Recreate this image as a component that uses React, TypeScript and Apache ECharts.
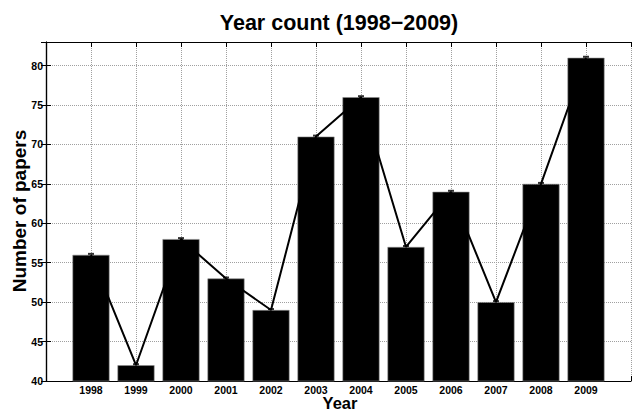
import React, { useEffect, useRef } from "react";
import * as echarts from "echarts";

const years = ["1998", "1999", "2000", "2001", "2002", "2003", "2004", "2005", "2006", "2007", "2008", "2009"];
const counts = [56, 42, 58, 53, 49, 71, 76, 57, 64, 50, 65, 81];
const yTicks = [40, 45, 50, 55, 60, 65, 70, 75, 80];

const FONT = "'Liberation Sans', Arial, Helvetica, sans-serif";

export default function App() {
  const ref = useRef<HTMLDivElement>(null);
  useEffect(() => {
    document.body.style.margin = "0";
    if (!ref.current) return;
    const chart = echarts.init(ref.current, null, { renderer: "svg" });
    const pts = counts.map((v, i) => [i + 1, v]);
    const tickLine = { show: true, inside: true, length: 5, lineStyle: { color: "#000", width: 1 } };
    const textStyle = (text: string, size: number) => ({
      text,
      fontSize: size,
      fontWeight: "bold",
      fontFamily: FONT,
      fill: "#000",
      align: "center",
      verticalAlign: "middle",
    });
    chart.setOption({
      animation: false,
      backgroundColor: "#fff",
      graphic: [
        { type: "text", x: 339, y: 23, style: textStyle("Year count (1998\u22122009)", 21.5) },
        { type: "text", x: 340, y: 402.5, style: textStyle("Year", 16.5) },
        { type: "text", x: 19, y: 211, rotation: Math.PI / 2, style: textStyle("Number of papers", 19) },
      ],
      grid: { left: 46, right: 1, top: 42, bottom: 29, containLabel: false, outerBoundsMode: "none" },
      xAxis: [
        {
          type: "value",
          min: 0,
          max: 13,
          interval: 1,
          position: "bottom",
          axisLine: { show: true, lineStyle: { color: "#000", width: 1.2 } },
          axisTick: tickLine,
          axisLabel: {
            show: true,
            margin: 3,
            fontSize: 10.5,
            fontWeight: "bold",
            fontFamily: FONT,
            color: "#000",
            formatter: (v: number) => (v >= 1 && v <= years.length ? years[v - 1] : ""),
          },
          splitLine: { show: true, lineStyle: { color: "#a0a0a0", type: "dotted", width: 1 } },
        },
        {
          type: "value",
          min: 0,
          max: 13,
          interval: 1,
          position: "top",
          axisLine: { show: true, lineStyle: { color: "#000", width: 1.2 } },
          axisTick: tickLine,
          axisLabel: { show: false },
          splitLine: { show: false },
        },
      ],
      yAxis: [
        {
          type: "value",
          min: 40,
          max: 83,
          interval: 5,
          position: "left",
          axisLine: { show: true, lineStyle: { color: "#000", width: 1.2 } },
          axisTick: tickLine,
          axisLabel: {
            show: true,
            margin: 3,
            fontSize: 10.5,
            fontWeight: "bold",
            fontFamily: FONT,
            color: "#000",
            showMaxLabel: false,
            formatter: (v: number) => (yTicks.indexOf(v) >= 0 ? String(v) : ""),
          },
          splitLine: { show: true, lineStyle: { color: "#a0a0a0", type: "dotted", width: 1 } },
        },
        {
          type: "value",
          min: 40,
          max: 83,
          interval: 5,
          position: "right",
          axisLine: { show: true, lineStyle: { color: "#000", width: 1.2 } },
          axisTick: tickLine,
          axisLabel: { show: false },
          splitLine: { show: false },
        },
      ],
      series: [
        {
          type: "bar",
          xAxisIndex: 0,
          yAxisIndex: 0,
          data: pts,
          barWidth: 37,
          itemStyle: { color: "#000", borderColor: "#8c8c8c", borderWidth: 0.6 },
          z: 2,
        },
        {
          type: "line",
          xAxisIndex: 0,
          yAxisIndex: 0,
          data: pts,
          symbol: "none",
          lineStyle: { color: "#000", width: 2 },
          z: 3,
        },
        {
          type: "scatter",
          xAxisIndex: 0,
          yAxisIndex: 0,
          data: pts,
          symbol: "rect",
          symbolSize: [6, 2],
          symbolOffset: [0, -1],
          itemStyle: { color: "#000" },
          z: 4,
        },
      ],
    });
    return () => chart.dispose();
  }, []);
  return <div ref={ref} style={{ width: 632, height: 410 }} />;
}
